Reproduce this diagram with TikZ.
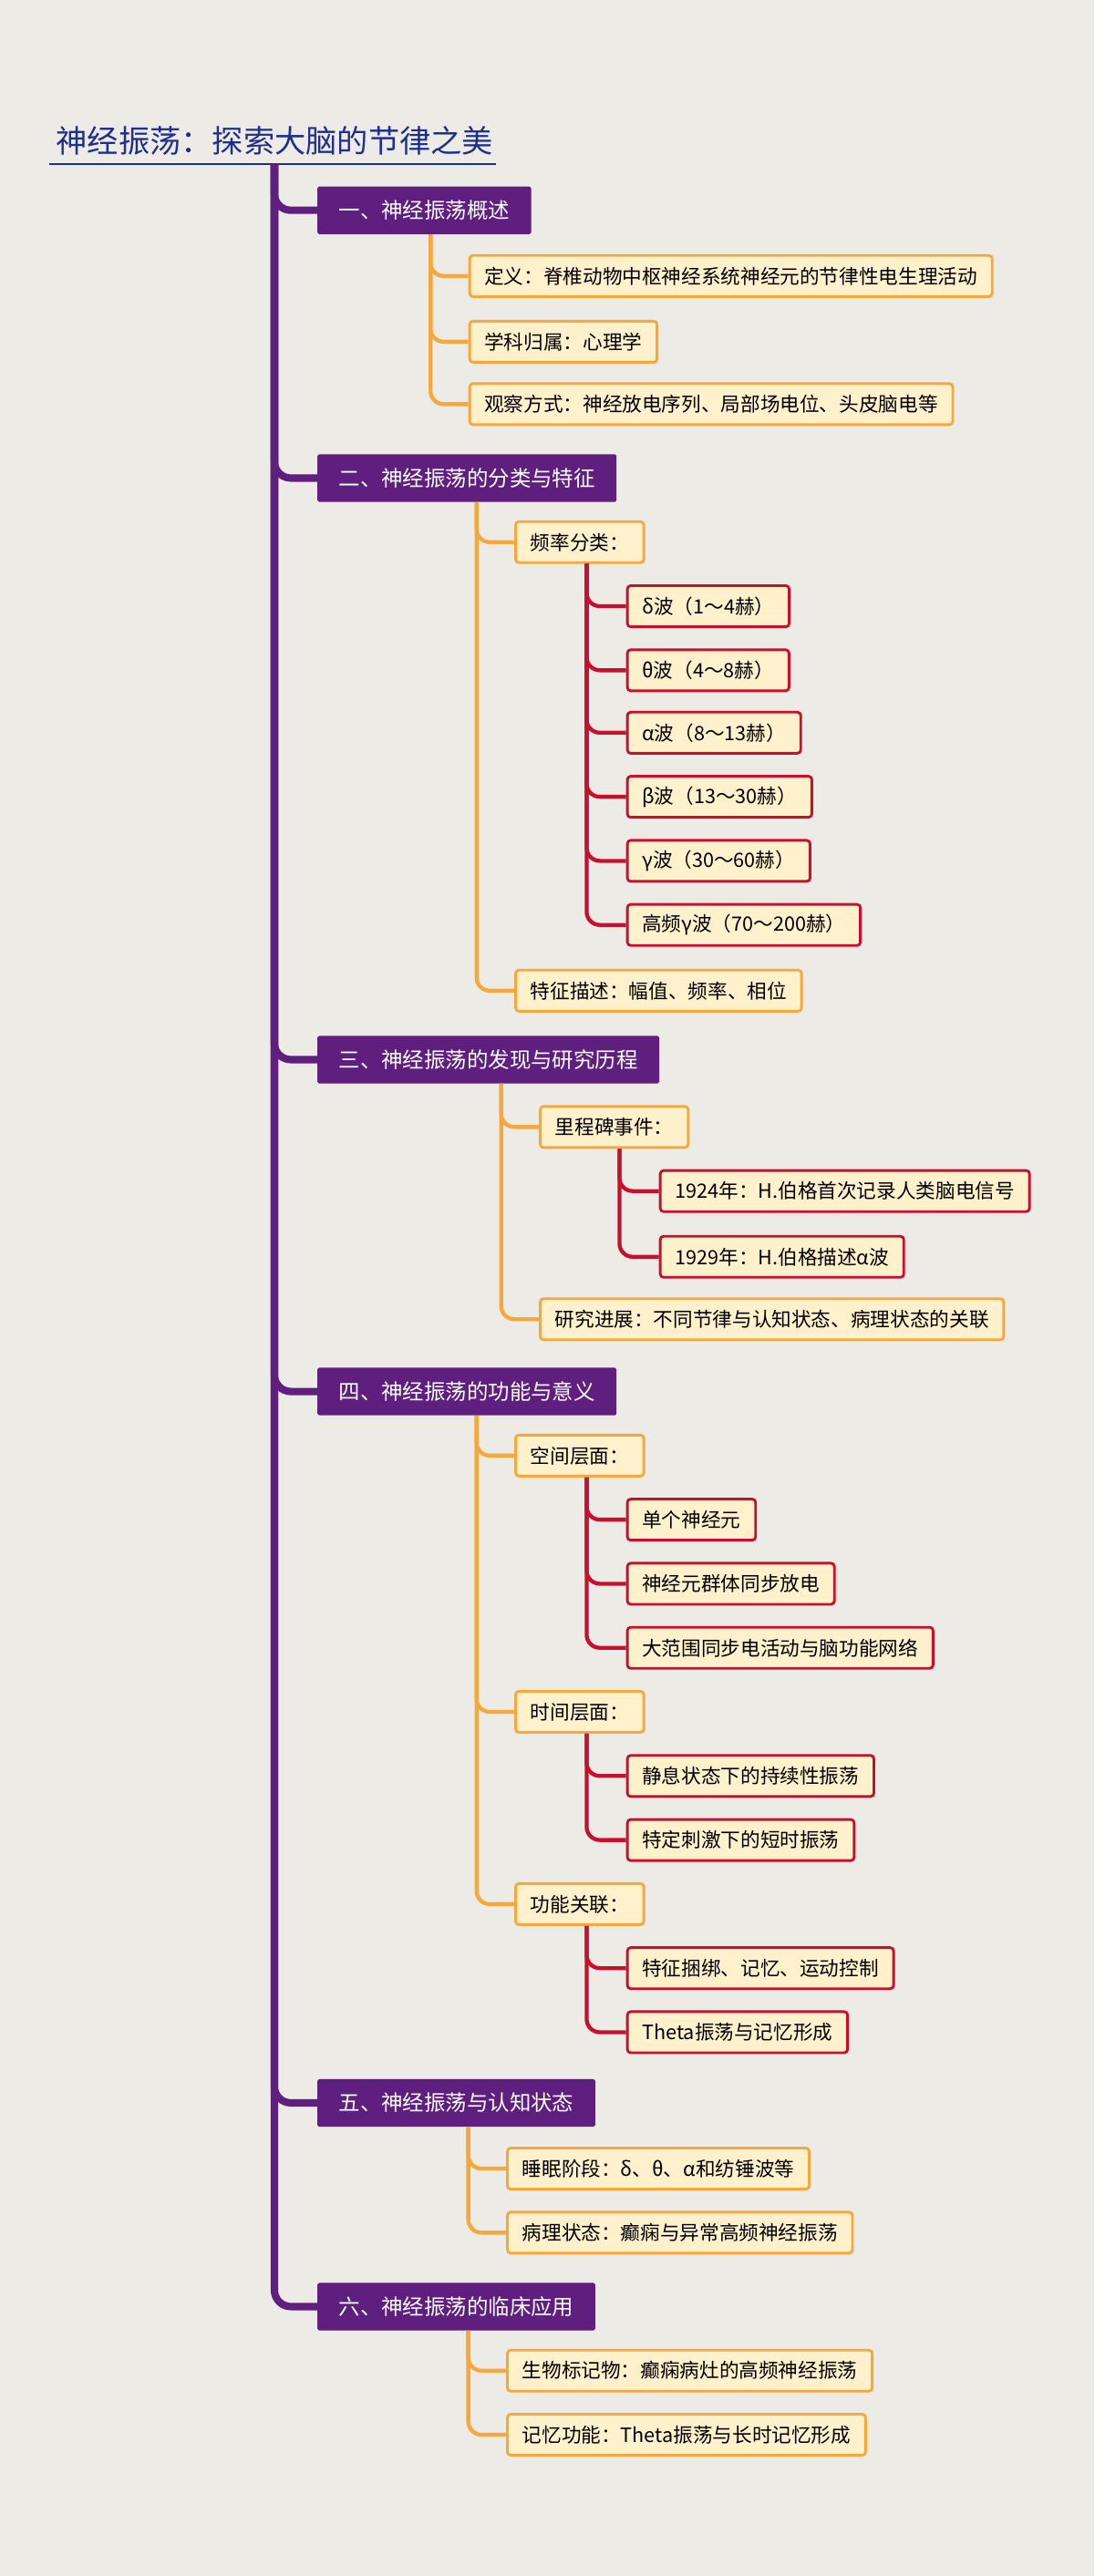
\documentclass[tikz,border=0pt]{standalone}
\usepackage{fontspec}
\setmainfont{Noto Sans CJK SC}
\usetikzlibrary{positioning}
\definecolor{bgc}{HTML}{ECEBE6}
\definecolor{purp}{HTML}{5E1F7E}
\definecolor{orng}{HTML}{F6A83C}
\definecolor{redc}{HTML}{C8102E}
\definecolor{fillc}{HTML}{FFF1CC}
\definecolor{titc}{HTML}{1F2F8A}
\tikzset{
  sec/.style={anchor=west,fill=purp,text=white,font=\fontsize{13}{15}\selectfont,
    minimum height=29pt,inner xsep=13pt,rounded corners=1pt},
  lvtwo/.style={anchor=west,fill=fillc,draw=orng,line width=1.6pt,text=black,
    font=\fontsize{12}{14}\selectfont,minimum height=25pt,inner xsep=9pt,rounded corners=2pt},
  lvthree/.style={lvtwo,draw=redc},
  trunk/.style={purp,line width=4.5pt,rounded corners=10pt},
  oline/.style={orng,line width=2.4pt,rounded corners=8pt},
  rline/.style={redc,line width=2.4pt,rounded corners=8pt},
}
\begin{document}
\begin{tikzpicture}[x=1pt,y=-1pt]
\fill[bgc] (0,0) rectangle (666,1568);
\useasboundingbox (0,0) rectangle (666,1568);

\node[anchor=west,text=titc,font=\fontsize{19}{22}\selectfont,inner sep=1pt] (title) at (33,86) {神经振荡：探索大脑的节律之美};
\draw[titc,line width=1.2pt] (30,100) -- (302,100);

% sections
\node[sec] (s1) at (193,128) {一、神经振荡概述};
\node[sec] (s2) at (193,291) {二、神经振荡的分类与特征};
\node[sec] (s3) at (193,645) {三、神经振荡的发现与研究历程};
\node[sec] (s4) at (193,847) {四、神经振荡的功能与意义};
\node[sec] (s5) at (193,1280) {五、神经振荡与认知状态};
\node[sec] (s6) at (193,1404) {六、神经振荡的临床应用};

\coordinate (t) at (167,100);
\foreach \s in {s1,s2,s3,s4,s5,s6}
  \draw[trunk] (t) |- (\s.west);

% section 1
\node[lvtwo] (a1) at (285,168) {定义：脊椎动物中枢神经系统神经元的节律性电生理活动};
\node[lvtwo] (a2) at (285,208) {学科归属：心理学};
\node[lvtwo] (a3) at (285,246) {观察方式：神经放电序列、局部场电位、头皮脑电等};
\coordinate (v1) at (262,0);
\foreach \c in {a1,a2,a3}
  \draw[oline] (v1 |- s1.south) |- (\c.west);

% section 2
\node[lvtwo] (b1) at (313,330) {频率分类：};
\node[lvtwo] (b2) at (313,603) {特征描述：幅值、频率、相位};
\coordinate (v2) at (290,0);
\foreach \c in {b1,b2}
  \draw[oline] (v2 |- s2.south) |- (\c.west);
\node[lvthree] (b11) at (381,369) {δ波（1～4赫）};
\node[lvthree] (b12) at (381,408) {θ波（4～8赫）};
\node[lvthree] (b13) at (381,446) {α波（8～13赫）};
\node[lvthree] (b14) at (381,485) {β波（13～30赫）};
\node[lvthree] (b15) at (381,524) {γ波（30～60赫）};
\node[lvthree] (b16) at (381,563) {高频γ波（70～200赫）};
\coordinate (w2) at (357,0);
\foreach \c in {b11,b12,b13,b14,b15,b16}
  \draw[rline] (w2 |- b1.south) |- (\c.west);

% section 3
\node[lvtwo] (c1) at (328,686) {里程碑事件：};
\node[lvtwo] (c2) at (328,803) {研究进展：不同节律与认知状态、病理状态的关联};
\coordinate (v3) at (305,0);
\foreach \c in {c1,c2}
  \draw[oline] (v3 |- s3.south) |- (\c.west);
\node[lvthree] (c11) at (401,725) {1924年：H.伯格首次记录人类脑电信号};
\node[lvthree] (c12) at (401,765) {1929年：H.伯格描述α波};
\coordinate (w3) at (377,0);
\foreach \c in {c11,c12}
  \draw[rline] (w3 |- c1.south) |- (\c.west);

% section 4
\node[lvtwo] (d1) at (313,886) {空间层面：};
\node[lvtwo] (d2) at (313,1042) {时间层面：};
\node[lvtwo] (d3) at (313,1159) {功能关联：};
\coordinate (v4) at (290,0);
\foreach \c in {d1,d2,d3}
  \draw[oline] (v4 |- s4.south) |- (\c.west);
\node[lvthree] (d11) at (381,925) {单个神经元};
\node[lvthree] (d12) at (381,964) {神经元群体同步放电};
\node[lvthree] (d13) at (381,1003) {大范围同步电活动与脑功能网络};
\node[lvthree] (d21) at (381,1081) {静息状态下的持续性振荡};
\node[lvthree] (d22) at (381,1120) {特定刺激下的短时振荡};
\node[lvthree] (d31) at (381,1198) {特征捆绑、记忆、运动控制};
\node[lvthree] (d32) at (381,1237) {Theta振荡与记忆形成};
\coordinate (w4) at (357,0);
\foreach \c in {d11,d12,d13}
  \draw[rline] (w4 |- d1.south) |- (\c.west);
\foreach \c in {d21,d22}
  \draw[rline] (w4 |- d2.south) |- (\c.west);
\foreach \c in {d31,d32}
  \draw[rline] (w4 |- d3.south) |- (\c.west);

% section 5
\node[lvtwo] (e1) at (308,1320) {睡眠阶段：δ、θ、α和纺锤波等};
\node[lvtwo] (e2) at (308,1359) {病理状态：癫痫与异常高频神经振荡};
\coordinate (v5) at (285,0);
\foreach \c in {e1,e2}
  \draw[oline] (v5 |- s5.south) |- (\c.west);

% section 6
\node[lvtwo] (f1) at (308,1443) {生物标记物：癫痫病灶的高频神经振荡};
\node[lvtwo] (f2) at (308,1482) {记忆功能：Theta振荡与长时记忆形成};
\foreach \c in {f1,f2}
  \draw[oline] (v5 |- s6.south) |- (\c.west);
\end{tikzpicture}
\end{document}
